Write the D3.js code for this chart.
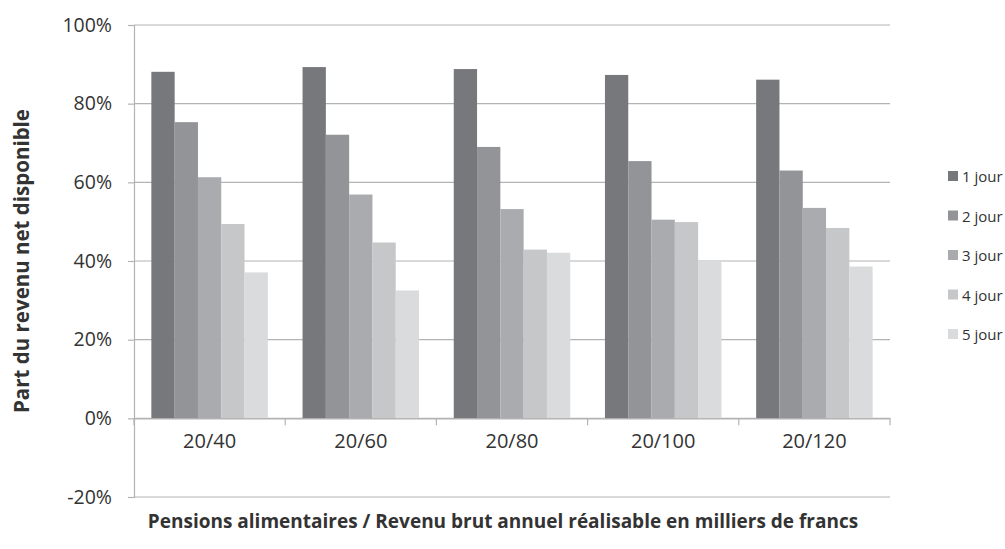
<!DOCTYPE html>
<html><head><meta charset="utf-8">
<script src="https://cdn.jsdelivr.net/npm/d3@7"></script>
<style>body{margin:0;background:#fff}svg{display:block}text{font-family:"Open Sans",sans-serif;fill:#333}</style>
</head><body>
<script>
const categories = ["20/40","20/60","20/80","20/100","20/120"];
const seriesNames = ["1 jour","2 jour","3 jour","4 jour","5 jour"];
const jour1 = [88.1, 89.3, 88.8, 87.3, 86.1];
const jour2 = [75.3, 72.1, 69.0, 65.4, 63.0];
const jour3 = [61.3, 56.9, 53.2, 50.5, 53.5];
const jour4 = [49.4, 44.7, 42.9, 49.9, 48.4];
const jour5 = [37.1, 32.5, 42.1, 40.0, 38.6];
const yTicks = [-20, 0, 20, 40, 60, 80, 100];
const colors = ["#77787c","#939498","#aaabae","#c6c7c9","#dadbdd"];
const series = [jour1, jour2, jour3, jour4, jour5];

const W = 1005, H = 549;
const svg = d3.select("body").append("svg").attr("width", W).attr("height", H);
const x0 = d3.scaleBand().domain(categories).range([134, 890]).paddingInner(0).paddingOuter(0);
const x1 = d3.scaleBand().domain(seriesNames).range([0, x0.bandwidth()]).paddingOuter(0.745).paddingInner(0);
const y = d3.scaleLinear().domain([-20, 100]).range([497, 25]);

// gridlines
svg.append("g").selectAll("line").data(yTicks).join("line")
  .attr("x1", 134).attr("x2", 890).attr("y1", d => y(d)).attr("y2", d => y(d))
  .attr("stroke", "#b3b3b3").attr("stroke-width", 1.2);

// y axis
const yAxis = d3.axisLeft(y).tickValues(yTicks).tickSize(6).tickPadding(16).tickFormat(d => d + "%");
const gy = svg.append("g").attr("transform", "translate(134,0)").call(yAxis);
gy.select(".domain").attr("stroke", "#b3b3b3").attr("stroke-width", 1.2);
gy.selectAll(".tick line").attr("stroke", "#b3b3b3").attr("stroke-width", 1.2);
gy.selectAll(".tick text").style("font-size", "19.5px").style("font-family", "'Open Sans',sans-serif").attr("fill", "#3a3a3a");

// bars
const groups = svg.append("g").selectAll("g").data(categories).join("g")
  .attr("transform", d => `translate(${x0(d)},0)`);
groups.selectAll("rect").data((c, i) => series.map((s, j) => ({name: seriesNames[j], v: s[i], j})))
  .join("rect")
  .attr("x", d => x1(d.name)).attr("width", x1.bandwidth())
  .attr("y", d => y(Math.max(0, d.v))).attr("height", d => Math.abs(y(d.v) - y(0)))
  .attr("fill", d => colors[d.j]);

// x axis at 0
const xAxis = d3.axisBottom(x0).tickSize(0).tickPadding(15);
const gx = svg.append("g").attr("transform", `translate(0,${y(0)})`).call(xAxis);
gx.select(".domain").attr("stroke", "#b3b3b3").attr("stroke-width", 1.2);
gx.selectAll(".tick text").style("font-size", "20px").style("font-family", "'Open Sans',sans-serif").attr("fill", "#3a3a3a");
// boundary ticks
const bounds = categories.map(c => x0(c)).concat([x0.range()[1]]);
svg.append("g").selectAll("line").data(bounds).join("line")
  .attr("x1", d => d).attr("x2", d => d).attr("y1", y(0)).attr("y2", y(0) + 7)
  .attr("stroke", "#b3b3b3").attr("stroke-width", 1.2);

// axis titles
svg.append("text").attr("transform", "translate(29,261) rotate(-90)").attr("text-anchor", "middle")
  .style("font-size", "20.5px").style("font-weight", "bold").attr("fill", "#2a2a2a").text("Part du revenu net disponible");
svg.append("text").attr("x", 503).attr("y", 528).attr("text-anchor", "middle")
  .style("font-size", "19px").style("font-weight", "bold").attr("fill", "#2a2a2a")
  .text("Pensions alimentaires / Revenu brut annuel réalisable en milliers de francs");

// legend
const leg = svg.append("g").selectAll("g").data(seriesNames).join("g")
  .attr("transform", (d, i) => `translate(948,${176 + i * 39.5})`);
leg.append("rect").attr("x", 0).attr("y", -5).attr("width", 10).attr("height", 10).attr("fill", (d, i) => colors[i]);
leg.append("text").attr("x", 14).attr("y", 6).style("font-size", "15px").attr("fill", "#3a3a3a").text(d => d);
</script>
</body></html>
